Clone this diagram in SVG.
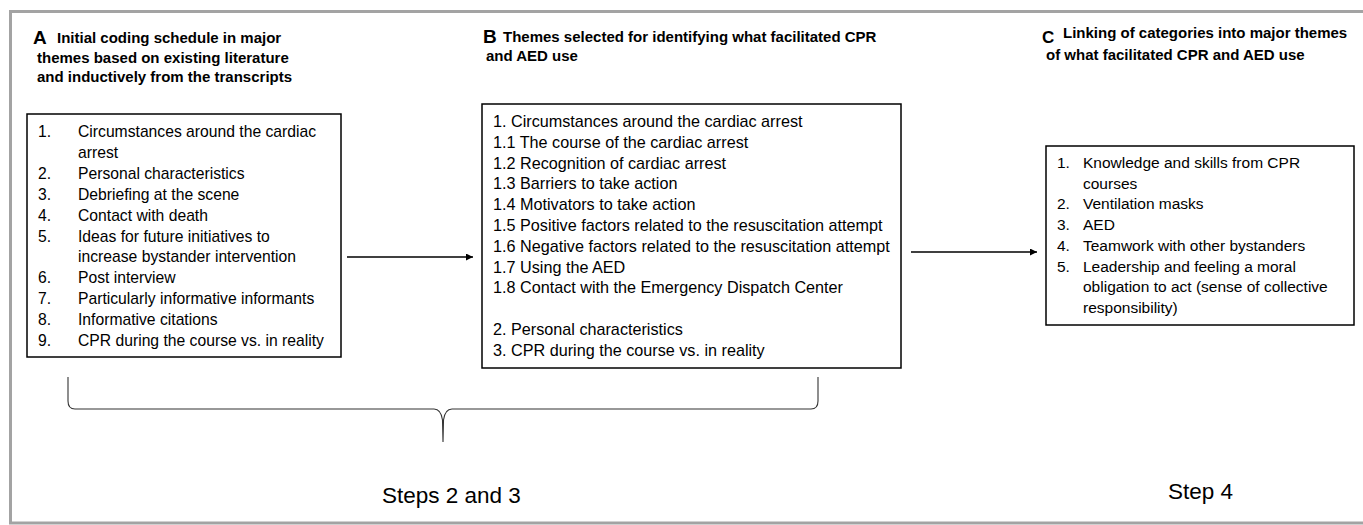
<svg xmlns="http://www.w3.org/2000/svg" width="1363" height="525" viewBox="0 0 1363 525">
<defs>
<style>
.frame{fill:none;stroke:#a3a3a3;stroke-width:3}
.box{fill:#fff;stroke:#000;stroke-width:1.5}
.t{font-family:"Liberation Sans",Arial,sans-serif;font-size:15.7px;fill:#000}
.tb{font-family:"Liberation Sans",Arial,sans-serif;font-size:16.2px;fill:#000}
.tc{font-family:"Liberation Sans",Arial,sans-serif;font-size:15.5px;fill:#000}
.h{font-family:"Liberation Sans",Arial,sans-serif;font-size:15px;font-weight:bold;fill:#000}
.L{font-family:"Liberation Sans",Arial,sans-serif;font-size:19px;font-weight:bold;fill:#000}
.s{font-family:"Liberation Sans",Arial,sans-serif;font-size:22.5px;fill:#000}
.conn{fill:none;stroke:#000;stroke-width:1.3}
.brace{fill:none;stroke:#333;stroke-width:1.1}
</style>
<marker id="ah" viewBox="0 0 10 10" refX="10" refY="5" markerWidth="8" markerHeight="7" markerUnits="userSpaceOnUse" orient="auto">
<path d="M0,0 L10,5 L0,10 Z" fill="#000"/>
</marker>
</defs>
<rect x="0" y="0" width="1363" height="525" fill="#fff"/>
<rect class="frame" x="10.5" y="11.5" width="1362" height="511.5"/>

<g id="titleA">
<text class="L" x="33" y="44">A</text>
<text class="h" x="57" y="43">Initial coding schedule in major</text>
<text class="h" x="37" y="63">themes based on existing literature</text>
<text class="h" x="37" y="82">and inductively from the transcripts</text>
</g>
<g id="titleB">
<text class="L" x="483" y="43">B</text>
<text class="h" x="503" y="42">Themes selected for identifying what facilitated CPR</text>
<text class="h" x="486" y="61">and AED use</text>
</g>
<g id="titleC">
<text class="L" x="1042" y="42.5" style="font-size:17px">C</text>
<text class="h" x="1063" y="38">Linking of categories into major themes</text>
<text class="h" x="1046" y="60">of what facilitated CPR and AED use</text>
</g>

<g id="boxA">
<rect class="box" x="27" y="114" width="314" height="243"/>
<text class="t" x="38" y="137">1.</text><text class="t" x="78" y="137">Circumstances around the cardiac</text>
<text class="t" x="78" y="157.9">arrest</text>
<text class="t" x="38" y="178.8">2.</text><text class="t" x="78" y="178.8">Personal characteristics</text>
<text class="t" x="38" y="199.7">3.</text><text class="t" x="78" y="199.7">Debriefing at the scene</text>
<text class="t" x="38" y="220.6">4.</text><text class="t" x="78" y="220.6">Contact with death</text>
<text class="t" x="38" y="241.5">5.</text><text class="t" x="78" y="241.5">Ideas for future initiatives to</text>
<text class="t" x="78" y="262.4">increase bystander intervention</text>
<text class="t" x="38" y="283.3">6.</text><text class="t" x="78" y="283.3">Post interview</text>
<text class="t" x="38" y="304.2">7.</text><text class="t" x="78" y="304.2">Particularly informative informants</text>
<text class="t" x="38" y="325.1">8.</text><text class="t" x="78" y="325.1">Informative citations</text>
<text class="t" x="38" y="346">9.</text><text class="t" x="78" y="346">CPR during the course vs. in reality</text>
</g>

<g id="boxB">
<rect class="box" x="482" y="104" width="419" height="264"/>
<text class="tb" x="493" y="127">1. Circumstances around the cardiac arrest</text>
<text class="tb" x="493" y="147.8">1.1 The course of the cardiac arrest</text>
<text class="tb" x="493" y="168.6">1.2 Recognition of cardiac arrest</text>
<text class="tb" x="493" y="189.4">1.3 Barriers to take action</text>
<text class="tb" x="493" y="210.2">1.4 Motivators to take action</text>
<text class="tb" x="493" y="231">1.5 Positive factors related to the resuscitation attempt</text>
<text class="tb" x="493" y="251.8">1.6 Negative factors related to the resuscitation attempt</text>
<text class="tb" x="493" y="272.6">1.7 Using the AED</text>
<text class="tb" x="493" y="293.4">1.8 Contact with the Emergency Dispatch Center</text>
<text class="tb" x="493" y="335">2. Personal characteristics</text>
<text class="tb" x="493" y="355.8">3. CPR during the course vs. in reality</text>
</g>

<g id="boxC">
<rect class="box" x="1046" y="146" width="308" height="179"/>
<text class="tc" x="1057" y="168">1.</text><text class="tc" x="1083" y="168">Knowledge and skills from CPR</text>
<text class="tc" x="1083" y="188.7">courses</text>
<text class="tc" x="1057" y="209.4">2.</text><text class="tc" x="1083" y="209.4">Ventilation masks</text>
<text class="tc" x="1057" y="230.1">3.</text><text class="tc" x="1083" y="230.1">AED</text>
<text class="tc" x="1057" y="250.8">4.</text><text class="tc" x="1083" y="250.8">Teamwork with other bystanders</text>
<text class="tc" x="1057" y="271.5">5.</text><text class="tc" x="1083" y="271.5">Leadership and feeling a moral</text>
<text class="tc" x="1083" y="292.2">obligation to act (sense of collective</text>
<text class="tc" x="1083" y="312.9">responsibility)</text>
</g>

<g id="connectors">
<line class="conn" x1="347" y1="257" x2="473" y2="257" marker-end="url(#ah)"/>
<line class="conn" x1="911" y1="252" x2="1037" y2="252" marker-end="url(#ah)"/>
<path class="brace" d="M68,377 L68,401 Q68,409 75,409 L434,409 Q441,409 442.5,420 L443,442 M443,442 L443.5,420 Q445,409 452,409 L811,409 Q818,409 818,401 L818,377"/>
</g>

<g id="steps">
<text class="s" x="382" y="503">Steps 2 and 3</text>
<text class="s" x="1168" y="499">Step 4</text>
</g>
</svg>
